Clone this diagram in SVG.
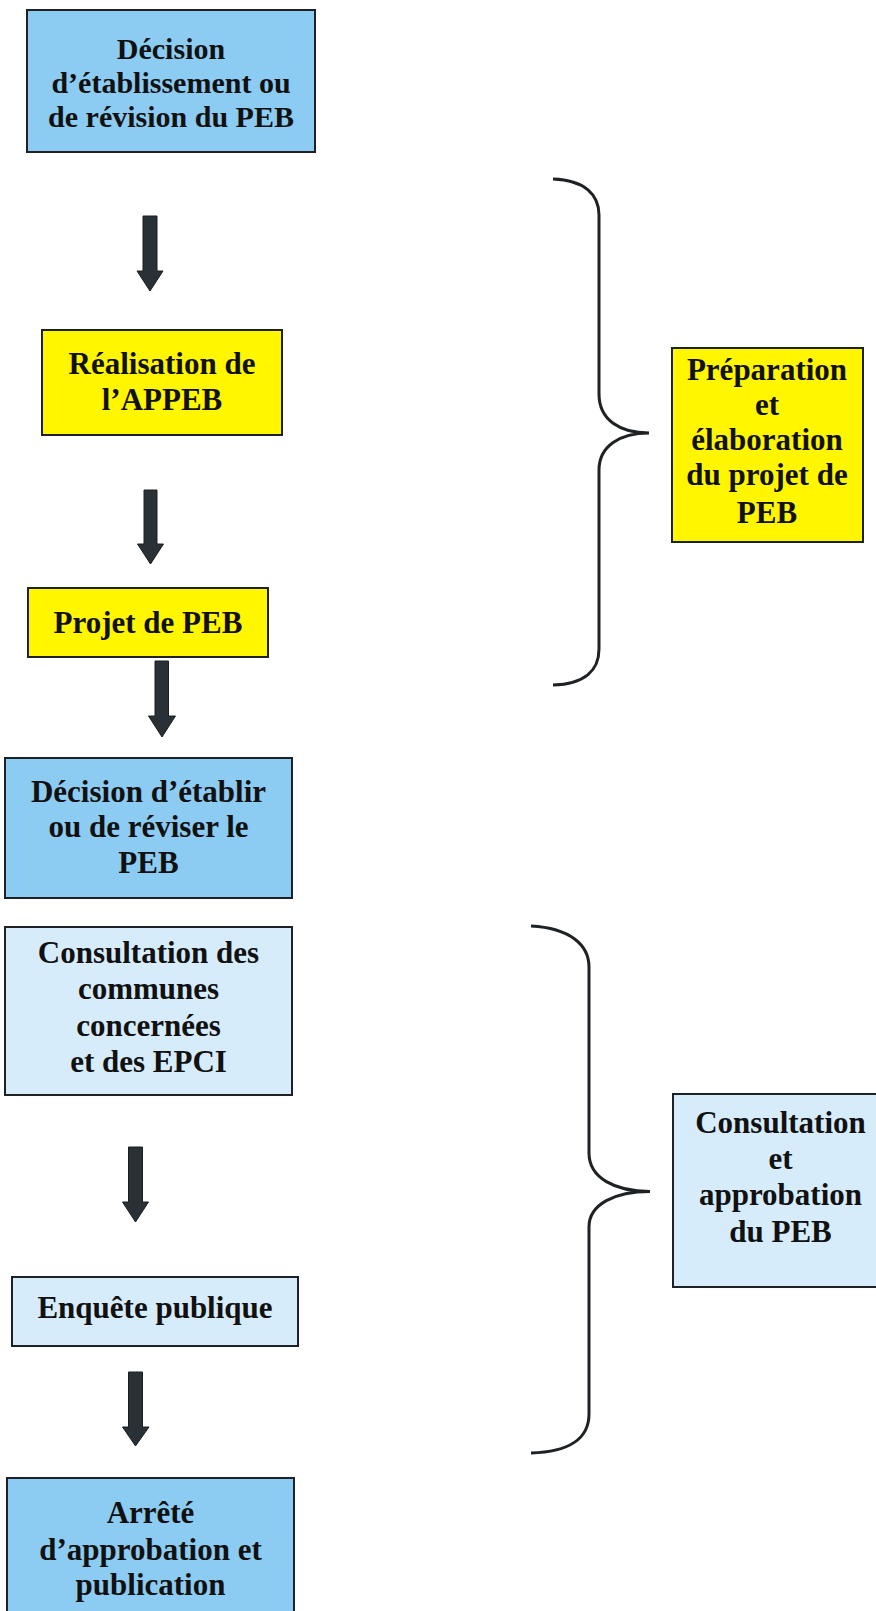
<svg xmlns="http://www.w3.org/2000/svg" width="876" height="1611" viewBox="0 0 876 1611">
<style>
.box{stroke:#1e2224;stroke-width:2}
.blue{fill:#8ccbf2}
.lblue{fill:#d6ecfa}
.yellow{fill:#fff600}
text{font-family:"Liberation Serif","Times New Roman",serif;font-weight:bold;font-size:31px;fill:#111;text-anchor:middle}
.t30{font-size:30px}
.arrow{fill:#2a3136;stroke:#1a1e20;stroke-width:1}
.brace{fill:none;stroke:#1e2224;stroke-width:3}
</style>
<rect width="876" height="1611" fill="#fff"/>
<g id="n1"><rect class="box blue" x="27" y="10" width="288" height="142"/>
<text class="t30" x="171" y="59">Décision</text><text class="t30" x="171" y="93">d’établissement ou</text><text class="t30" x="171" y="127">de révision du PEB</text></g>
<g id="n2"><rect class="box yellow" x="42" y="330" width="240" height="105"/>
<text x="162" y="374">Réalisation de</text><text x="162" y="410">l’APPEB</text></g>
<g id="n3"><rect class="box yellow" x="28" y="588" width="240" height="69"/>
<text x="148" y="633">Projet de PEB</text></g>
<g id="n4"><rect class="box blue" x="5" y="758" width="287" height="140"/>
<text x="148.5" y="802">Décision d’établir</text><text x="148.5" y="837">ou de réviser le</text><text x="148.5" y="873">PEB</text></g>
<g id="n5"><rect class="box lblue" x="5" y="927" width="287" height="168"/>
<text x="148.5" y="963">Consultation des</text><text x="148.5" y="999">communes</text><text x="148.5" y="1036">concernées</text><text x="148.5" y="1072">et des EPCI</text></g>
<g id="n6"><rect class="box lblue" x="12" y="1277" width="286" height="69"/>
<text x="155" y="1318">Enquête publique</text></g>
<g id="n7"><rect class="box blue" x="7" y="1478" width="287" height="140"/>
<text x="150.5" y="1523">Arrêté</text><text x="150.5" y="1560">d’approbation et</text><text x="150.5" y="1595">publication</text></g>
<g id="g1"><rect class="box yellow" x="672" y="348" width="191" height="194"/>
<text x="767" y="380">Préparation</text><text x="767" y="415">et</text><text x="767" y="450">élaboration</text><text x="767" y="485">du projet de</text><text x="767" y="523">PEB</text></g>
<g id="g2"><rect class="box lblue" x="673" y="1094" width="215" height="193"/>
<text x="780.5" y="1133">Consultation</text><text x="780.5" y="1169">et</text><text x="780.5" y="1205">approbation</text><text x="780.5" y="1242">du PEB</text></g>
<g id="connectors">
<polygon class="arrow" points="143,216 157,216 157,271 163,271 150,291 137,271 143,271"/>
<polygon class="arrow" points="144,490 157,490 157,544 163.5,544 150.5,564 137.5,544 144,544"/>
<polygon class="arrow" points="155,661 168.5,661 168.5,716 175.5,716 162,737 148.5,716 155,716"/>
<polygon class="arrow" points="128.5,1147 142.5,1147 142.5,1202 148.5,1202 135.5,1222 122.5,1202 128.5,1202"/>
<polygon class="arrow" points="128.5,1372 142.5,1372 142.5,1427 149,1427 135.5,1446 122.5,1427 128.5,1427"/>
<path class="brace" d="M553,179 C585,180 599,195 599,215 L599,394 C599,420 620,433 649,433 C620,433 599,446 599,470 L599,649 C599,670 585,684 553,685"/>
<path class="brace" d="M531,926 C570,928 589,945 589,967 L589,1153 C589,1178 615,1191.5 650,1191.5 C615,1191.5 589,1204 589,1227 L589,1414 C589,1438 570,1452 531,1453"/>
</g>
</svg>
